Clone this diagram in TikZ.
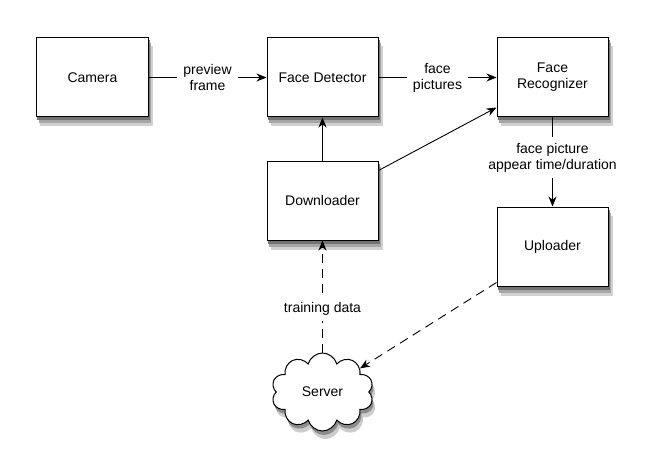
\documentclass[tikz,border=0pt]{standalone}
\usepackage{fontspec}
\setmainfont{Liberation Sans}
\usepackage{tikz}
\usetikzlibrary{shapes,shapes.symbols,arrows.meta,positioning,backgrounds}

\begin{document}
\begin{tikzpicture}[
    node distance=118pt,
    box/.style={rectangle, draw, line width=1pt, fill=white, minimum width=111pt, minimum height=79pt,
        font=\fontsize{14pt}{16pt}\selectfont, align=center},
    cloudbox/.style={cloud, cloud puffs=10, aspect=1.4, minimum width=102pt, minimum height=78pt},
    lbl/.style={fill=white, font=\fontsize{14pt}{16pt}\selectfont, align=center, inner sep=6pt},
    arrow/.style={-{Stealth[length=10pt,width=8pt]}, line width=0.9pt},
    dasharrow/.style={arrow, dash pattern=on 9pt off 6pt}
]
    \useasboundingbox (-92.5pt,77.5pt) rectangle (555.5pt,-377.5pt);

    \node[box] (camera) {Camera};
    \node[box, right=of camera] (detector) {Face Detector};
    \node[box, right=of detector] (recognizer) {Face\\Recognizer};
    \node[box, below=43pt of detector] (downloader) {Downloader};
    \node[box, below=89pt of recognizer] (uploader) {Uploader};
    \node[cloudbox, draw, line width=1pt, fill=white, font=\fontsize{14pt}{16pt}\selectfont,
        below=112pt of downloader] (server) {Server};

    \draw[arrow] (camera) -- node[lbl] {preview\\frame} (detector);
    \draw[arrow] (detector) -- node[lbl] {face\\pictures} (recognizer);
    \draw[arrow] (downloader) -- (detector);
    \draw[arrow] ([yshift=30pt]downloader.east) -- ([yshift=-30pt]recognizer.west);
    \draw[arrow] (recognizer) -- node[lbl, pos=0.45] {face picture\\appear time/duration} (uploader);
    \draw[dasharrow] ([yshift=4pt]uploader.south west) -- (server);
    \draw[dasharrow] (server) -- node[lbl, pos=0.39] {training data} (downloader);

    % soft shadows
    \begin{scope}[on background layer]
        \foreach \n in {camera,detector,recognizer,downloader,uploader} {
            \fill[black!18] ([xshift=4pt,yshift=-9pt]\n.south west) rectangle ([xshift=4pt,yshift=-9pt]\n.north east);
            \fill[black!35] ([xshift=2.5pt,yshift=-6pt]\n.south west) rectangle ([xshift=2.5pt,yshift=-6pt]\n.north east);
            \fill[black!55] ([xshift=1pt,yshift=-3pt]\n.south west) rectangle ([xshift=1pt,yshift=-3pt]\n.north east);
        }
        \node[cloudbox, fill=black!20] (servershadow) at ([xshift=3pt,yshift=-8pt]server.center) {};
        \node[cloudbox, fill=black!45] (servershadow2) at ([xshift=1.5pt,yshift=-4pt]server.center) {};
    \end{scope}
\end{tikzpicture}
\end{document}
